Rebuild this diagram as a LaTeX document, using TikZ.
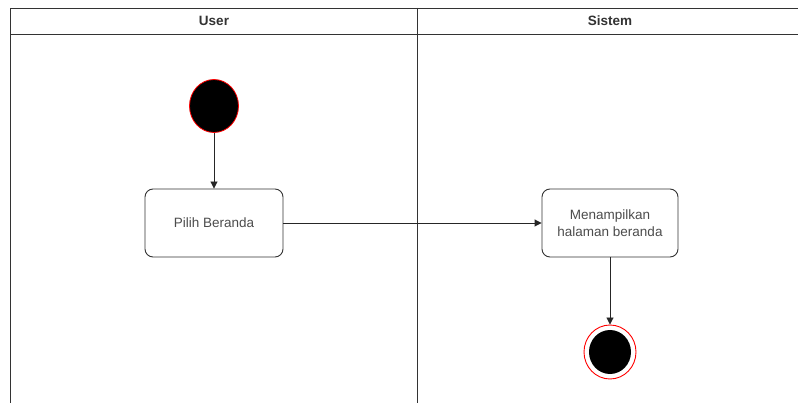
\documentclass[tikz,border=0pt]{standalone}
\usepackage{fontspec}
\setmainfont{Liberation Sans}
\usetikzlibrary{arrows.meta,shapes.geometric}
\begin{document}
\begin{tikzpicture}[x=1pt,y=-1pt,
  lane/.style={draw=black!80,line width=0.9pt},
  action/.style={draw=black!80,line width=0.9pt,rounded corners=8pt,minimum width=138pt,minimum height=68pt,align=center,font=\fontsize{13.5}{17}\selectfont,text=black!70},
  flow/.style={draw=black!85,line width=0.9pt,-{Triangle[length=7pt,width=7pt]}},
  header/.style={font=\bfseries\fontsize{13.5}{16}\selectfont,text=black!80}
]
\useasboundingbox (0,0) rectangle (798,403);
\fill[white] (0,0) rectangle (798,403);
% swimlanes
\draw[lane] (10,403) -- (10,8) -- (798,8);
\draw[lane] (10,34) -- (798,34);
\draw[lane] (417,8) -- (417,403);
\node[header] (huser) at (214,21) {User};
\node[header] (hsys) at (610,21) {Sistem};
% start
\node[ellipse,fill=black,draw=red,line width=0.8pt,minimum width=49pt,minimum height=53pt,inner sep=0pt] (start) at (214,106) {};
% actions
\node[action] (pilih) at (214,223) {Pilih Beranda};
\node[action,minimum width=136pt] (tampil) at (610,223) {Menampilkan\\halaman beranda};
% end
\node[ellipse,draw=red,line width=0.9pt,minimum width=52pt,minimum height=54pt,inner sep=0pt] (end) at (610,352) {};
\node[ellipse,fill=black,minimum width=42pt,minimum height=44pt,inner sep=0pt] (endin) at (610,352) {};
% flows
\draw[flow] (start) -- (pilih);
\draw[flow] (pilih) -- (tampil);
\draw[flow] (tampil) -- (end);
\end{tikzpicture}
\end{document}
